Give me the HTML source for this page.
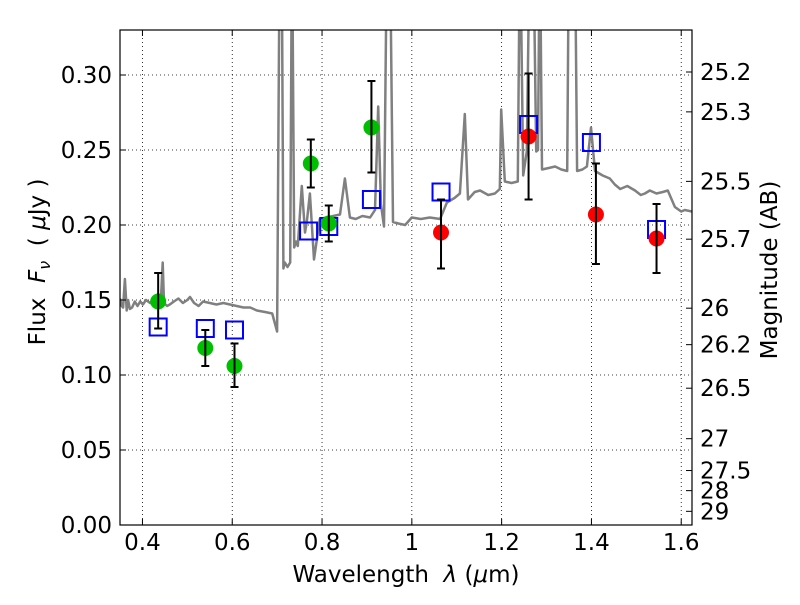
<!DOCTYPE html>
<html><head><meta charset="utf-8"><style>
html,body{margin:0;padding:0;background:#fff;}
svg text{font-family:"DejaVu Sans","Liberation Sans",sans-serif;fill:#000;}
</style></head><body>
<svg id="chart" width="800" height="600" viewBox="0 0 800 600" xmlns="http://www.w3.org/2000/svg">
<defs><clipPath id="plotclip"><rect x="120" y="30" width="572" height="495"/></clipPath></defs>
<g id="grid"></g>
<g id="spec" clip-path="url(#plotclip)"></g>
<g id="marks" clip-path="url(#plotclip)"></g>
<rect x="120" y="30" width="572" height="495" fill="none" stroke="#000" stroke-width="1.2"/>
<g id="axes"></g>
<text x="406" y="582" font-size="23" text-anchor="middle">Wavelength&#160;&#160;<tspan font-style="italic">λ</tspan> (<tspan font-style="italic">μ</tspan>m)</text>
<text transform="translate(45,262) rotate(-90)" font-size="23" text-anchor="middle">Flux&#160;&#160;<tspan font-style="italic">F<tspan font-size="16" dy="5">ν</tspan></tspan><tspan dy="-5">&#160;&#160;(&#160;</tspan><tspan font-style="italic">μ</tspan>Jy )</text>
<text transform="translate(777,270) rotate(-90)" font-size="23" text-anchor="middle">Magnitude (AB)</text>
</svg>
<script>
const xTicks=[0.4,0.6,0.8,1.0,1.2,1.4,1.6];
const xTickLabels=["0.4","0.6","0.8","1","1.2","1.4","1.6"];
const yTicks=[0,0.05,0.10,0.15,0.20,0.25,0.30];
const yTickLabels=["0.00","0.05","0.10","0.15","0.20","0.25","0.30"];
const magTicks=[25.2,25.3,25.5,25.7,26,26.2,26.5,27,27.5,28,29];
const magTickLabels=["25.2","25.3","25.5","25.7","26","26.2","26.5","27","27.5","28","29"];
const specWave=[0.350,0.354,0.357,0.361,0.365,0.368,0.372,0.377,0.383,0.389,0.395,0.401,0.408,0.417,0.425,0.435,0.441,0.445,0.448,0.455,0.461,0.470,0.480,0.490,0.500,0.506,0.515,0.525,0.535,0.550,0.565,0.580,0.595,0.610,0.625,0.640,0.655,0.673,0.689,0.700,0.706,0.710,0.714,0.717,0.723,0.729,0.733,0.738,0.742,0.746,0.755,0.762,0.766,0.773,0.782,0.795,0.810,0.825,0.840,0.851,0.862,0.875,0.890,0.907,0.918,0.925,0.931,0.938,0.945,0.951,0.958,0.970,0.985,1.000,1.020,1.040,1.063,1.078,1.095,1.107,1.118,1.125,1.140,1.152,1.170,1.185,1.196,1.199,1.207,1.222,1.236,1.241,1.248,1.256,1.263,1.270,1.277,1.281,1.285,1.290,1.305,1.319,1.333,1.346,1.350,1.357,1.363,1.368,1.380,1.390,1.399,1.408,1.425,1.441,1.452,1.464,1.480,1.497,1.510,1.519,1.530,1.545,1.559,1.570,1.586,1.600,1.608,1.624];
const specFlux=[0.151,0.146,0.145,0.164,0.143,0.150,0.144,0.145,0.149,0.146,0.149,0.147,0.150,0.148,0.151,0.150,0.150,0.175,0.148,0.146,0.147,0.149,0.151,0.148,0.150,0.152,0.148,0.146,0.149,0.148,0.147,0.148,0.147,0.146,0.145,0.145,0.143,0.142,0.141,0.129,0.400,0.400,0.171,0.175,0.172,0.175,0.400,0.185,0.189,0.186,0.226,0.195,0.202,0.221,0.177,0.204,0.205,0.206,0.207,0.231,0.205,0.204,0.206,0.205,0.210,0.279,0.214,0.199,0.400,0.400,0.202,0.201,0.200,0.205,0.204,0.205,0.204,0.215,0.218,0.221,0.274,0.217,0.222,0.223,0.220,0.221,0.224,0.277,0.229,0.228,0.229,0.400,0.233,0.249,0.400,0.400,0.249,0.250,0.400,0.237,0.238,0.239,0.237,0.236,0.400,0.400,0.400,0.236,0.237,0.239,0.265,0.236,0.233,0.231,0.227,0.224,0.226,0.223,0.220,0.221,0.223,0.221,0.222,0.223,0.212,0.209,0.210,0.209,0.202];
const greenWave=[0.435,0.540,0.605,0.775,0.815,0.910];
const greenFlux=[0.149,0.118,0.106,0.241,0.201,0.265];
const greenLo=[0.131,0.106,0.092,0.225,0.189,0.235];
const greenHi=[0.168,0.130,0.121,0.257,0.213,0.296];
const redWave=[1.065,1.260,1.410,1.545];
const redFlux=[0.195,0.259,0.207,0.191];
const redLo=[0.171,0.217,0.174,0.168];
const redHi=[0.217,0.301,0.241,0.214];
const modelWave=[0.435,0.540,0.605,0.770,0.815,0.910,1.065,1.260,1.400,1.545];
const modelFlux=[0.132,0.131,0.130,0.196,0.199,0.217,0.222,0.267,0.255,0.197];

const NS="http://www.w3.org/2000/svg";
const X0=120,X1=692,Y0=525,Y1=30,xmin=0.35,xmax=1.624,ymin=0,ymax=0.33;
const sx=v=>X0+(v-xmin)/(xmax-xmin)*(X1-X0);
const sy=v=>Y0-(v-ymin)/(ymax-ymin)*(Y0-Y1);
const magToFlux=m=>Math.pow(10,(23.9-m)/2.5);
function mk(tag,attrs,parent){const e=document.createElementNS(NS,tag);for(const k in attrs)e.setAttribute(k,attrs[k]);parent.appendChild(e);return e;}
const grid=document.getElementById('grid'),axes=document.getElementById('axes'),spec=document.getElementById('spec'),marks=document.getElementById('marks');

xTicks.forEach((v,i)=>{const x=sx(v);
 const g=mk('line',{x1:x,x2:x,y1:Y1,y2:Y0,stroke:'#000','stroke-width':0.8,'stroke-dasharray':'1,3'},grid);
 
 
 mk('line',{x1:x,x2:x,y1:Y0,y2:Y0-6,stroke:'#000'},axes);
 mk('line',{x1:x,x2:x,y1:Y1,y2:Y1+6,stroke:'#000'},axes);
 const t=mk('text',{x:x,y:Y0+25,'font-size':23,'text-anchor':'middle'},axes);t.textContent=xTickLabels[i];
 
 
});
yTicks.forEach((v,i)=>{const y=sy(v);
 const g=mk('line',{x1:X0,x2:X1,y1:y,y2:y,stroke:'#000','stroke-width':0.8,'stroke-dasharray':'1,3'},grid);
 
 
 mk('line',{x1:X0,x2:X0+6,y1:y,y2:y,stroke:'#000'},axes);
 const t=mk('text',{x:X0-8,y:y+8,'font-size':23,'text-anchor':'end'},axes);t.textContent=yTickLabels[i];
 
 
});
magTicks.forEach((m,i)=>{const y=sy(magToFlux(m));
 mk('line',{x1:X1,x2:X1-6,y1:y,y2:y,stroke:'#000'},axes);
 const t=mk('text',{x:X1+8,y:y+8,'font-size':23,'text-anchor':'start'},axes);t.textContent=magTickLabels[i];
 
 
});

const d=specWave.map((w,i)=>(i?'L':'M')+sx(w).toFixed(1)+','+sy(specFlux[i]).toFixed(1)).join(' ');
const p=mk('path',{d:d,fill:'none',stroke:'#808080','stroke-width':2.5,'stroke-linejoin':'round'},spec);



function errbar(w,lo,hi){const x=sx(w);
 const e=mk('g',{stroke:'#000','stroke-width':2},marks);
 
 
 mk('line',{x1:x,x2:x,y1:sy(lo),y2:sy(hi)},e);
 mk('line',{x1:x-4,x2:x+4,y1:sy(lo),y2:sy(lo)},e);
 mk('line',{x1:x-4,x2:x+4,y1:sy(hi),y2:sy(hi)},e);
}
modelWave.forEach((w,i)=>{const r=mk('rect',{x:sx(w)-8.5,y:sy(modelFlux[i])-8.5,width:17,height:17,fill:'none',stroke:'#0000ff','stroke-width':2},marks);
 
 
});
greenWave.forEach((w,i)=>{
 const c=mk('circle',{cx:sx(w),cy:sy(greenFlux[i]),r:8,fill:'#00bf00'},marks);
 
 
 errbar(w,greenLo[i],greenHi[i]);
});
redWave.forEach((w,i)=>{
 const c=mk('circle',{cx:sx(w),cy:sy(redFlux[i]),r:8,fill:'#ff0000'},marks);
 
 
 errbar(w,redLo[i],redHi[i]);
});
</script>
</body></html>
